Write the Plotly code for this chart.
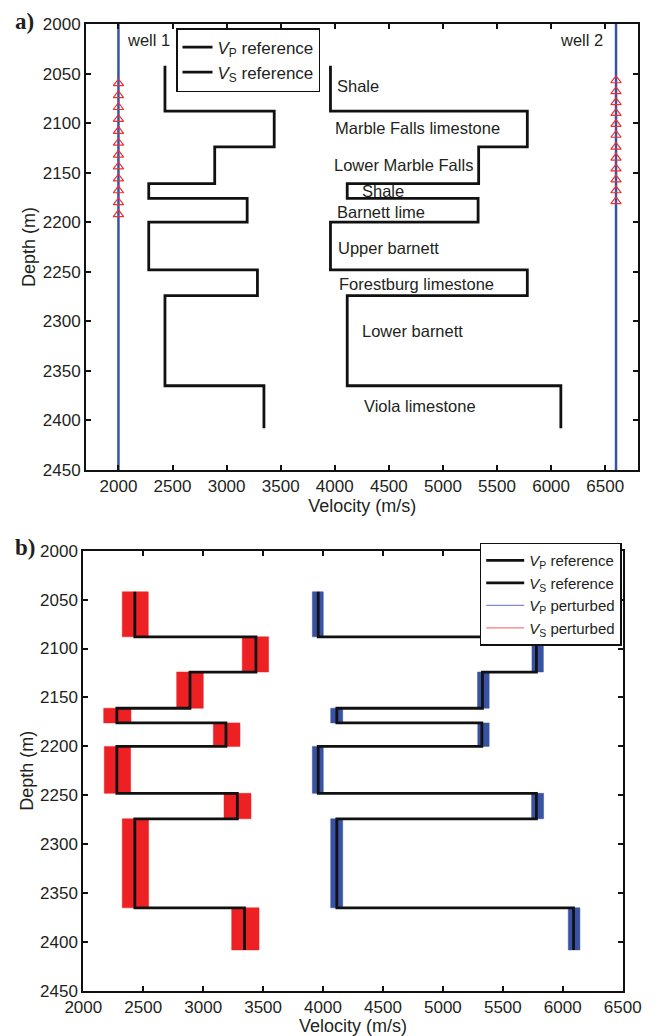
import plotly.graph_objects as go

# ---------------- data ----------------
layer_top = [2042, 2088, 2124, 2161, 2176, 2200, 2248, 2274, 2365]
layer_bottom = [2088, 2124, 2161, 2176, 2200, 2248, 2274, 2365, 2408]
vp_ref = [3960, 5780, 5330, 4115, 5325, 3960, 5780, 4115, 6090]
vs_ref = [2430, 3440, 2890, 2280, 3190, 2280, 3285, 2430, 3345]

vp_pert_low = [3911, 5743, 5289, 4064, 5291, 3911, 5740, 4064, 6046]
vp_pert_high = [4002, 5838, 5386, 4164, 5386, 4002, 5840, 4164, 6143]
vs_pert_low = [2325, 3326, 2779, 2170, 3085, 2175, 3174, 2325, 3238]
vs_pert_high = [2542, 3546, 3001, 2398, 3307, 2395, 3399, 2545, 3466]

layer_names = ["Shale", "Marble Falls limestone", "Lower Marble Falls", "Shale",
               "Barnett lime", "Upper barnett", "Forestburg limestone",
               "Lower barnett", "Viola limestone"]
label_x = [4002, 3986, 3974, 4232, 4002, 4011, 4020, 4235, 4247]
label_depth = [2063, 2105, 2142, 2168, 2190, 2226, 2262, 2310, 2385]

well_x = [2000, 6600]
well_names = ["well 1", "well 2"]
well1_receivers = [2060, 2072, 2084, 2096, 2108, 2120, 2132, 2144, 2156, 2168, 2180, 2192]
well2_receivers = [2057, 2068, 2079, 2090, 2101, 2112, 2124, 2135, 2146, 2157, 2168, 2179]

depth_ticks = [2000, 2050, 2100, 2150, 2200, 2250, 2300, 2350, 2400, 2450]
vel_ticks = [2000, 2500, 3000, 3500, 4000, 4500, 5000, 5500, 6000, 6500]

# ---------------- helpers ----------------
def step_curve(vals):
    xs, ys = [], []
    for v, t, b in zip(vals, layer_top, layer_bottom):
        xs += [v, v]
        ys += [t, b]
    return xs, ys

def band_polys(lo, hi):
    xs, ys = [], []
    for a, c, t, b in zip(lo, hi, layer_top, layer_bottom):
        xs += [a, c, c, a, a, None]
        ys += [t, t, b, b, t, None]
    return xs, ys

TXT = "#231F20"
FONT = "Liberation Sans, Arial, Helvetica, sans-serif"
BLUE = "#3953A4"
RED = "#ED2024"
LW = 2.8

fig = go.Figure()

# ---------------- panel a ----------------
for wx in well_x:
    fig.add_trace(go.Scatter(x=[wx, wx], y=[depth_ticks[0], depth_ticks[-1]], mode="lines",
                             line=dict(color=BLUE, width=2.5), showlegend=False,
                             xaxis="x", yaxis="y", hoverinfo="skip"))
fig.add_trace(go.Scatter(x=[well_x[0]] * len(well1_receivers), y=well1_receivers, mode="markers",
                         marker=dict(symbol="triangle-up-open", size=9, color="#EE3030",
                                     line=dict(width=1.2, color="#EE3030")),
                         showlegend=False, xaxis="x", yaxis="y"))
fig.add_trace(go.Scatter(x=[well_x[1]] * len(well2_receivers), y=well2_receivers, mode="markers",
                         marker=dict(symbol="triangle-up-open", size=9, color="#EE3030",
                                     line=dict(width=1.2, color="#EE3030")),
                         showlegend=False, xaxis="x", yaxis="y"))

xs, ys = step_curve(vp_ref)
fig.add_trace(go.Scatter(x=xs, y=ys, mode="lines", line=dict(color="#111111", width=LW),
                         name="<i>V</i><sub>P</sub> reference", xaxis="x", yaxis="y", legend="legend"))
xs, ys = step_curve(vs_ref)
fig.add_trace(go.Scatter(x=xs, y=ys, mode="lines", line=dict(color="#111111", width=LW),
                         name="<i>V</i><sub>S</sub> reference", xaxis="x", yaxis="y", legend="legend"))

# ---------------- panel b ----------------
xs, ys = band_polys(vs_pert_low, vs_pert_high)
fig.add_trace(go.Scatter(x=xs, y=ys, mode="lines", fill="toself", fillcolor=RED,
                         line=dict(color=RED, width=0.5), showlegend=False,
                         xaxis="x2", yaxis="y2", hoverinfo="skip"))
xs, ys = band_polys(vp_pert_low, vp_pert_high)
fig.add_trace(go.Scatter(x=xs, y=ys, mode="lines", fill="toself", fillcolor=BLUE,
                         line=dict(color=BLUE, width=0.5), showlegend=False,
                         xaxis="x2", yaxis="y2", hoverinfo="skip"))

xs, ys = step_curve(vp_ref)
fig.add_trace(go.Scatter(x=xs, y=ys, mode="lines", line=dict(color="#111111", width=LW),
                         name="<i>V</i><sub>P</sub> reference", xaxis="x2", yaxis="y2", legend="legend2"))
xs, ys = step_curve(vs_ref)
fig.add_trace(go.Scatter(x=xs, y=ys, mode="lines", line=dict(color="#111111", width=LW),
                         name="<i>V</i><sub>S</sub> reference", xaxis="x2", yaxis="y2", legend="legend2"))
fig.add_trace(go.Scatter(x=[None], y=[None], mode="lines", line=dict(color="#7E8DCB", width=1.2),
                         name="<i>V</i><sub>P</sub> perturbed", xaxis="x2", yaxis="y2", legend="legend2"))
fig.add_trace(go.Scatter(x=[None], y=[None], mode="lines", line=dict(color="#F47C7C", width=1.2),
                         name="<i>V</i><sub>S</sub> perturbed", xaxis="x2", yaxis="y2", legend="legend2"))

# ---------------- annotations ----------------
LBL = 16.5
ann = []
for name, lx, ld in zip(layer_names, label_x, label_depth):
    ann.append(dict(x=lx, y=ld, xref="x", yref="y", text=name, showarrow=False,
                    xanchor="left", yanchor="middle", font=dict(size=LBL, color=TXT, family=FONT)))
ann.append(dict(x=well_x[0] + 60, y=2016, xref="x", yref="y", text=well_names[0], showarrow=False,
                xanchor="left", yanchor="middle", font=dict(size=LBL, color=TXT, family=FONT)))
ann.append(dict(x=well_x[1] - 100, y=2016, xref="x", yref="y", text=well_names[1], showarrow=False,
                xanchor="right", yanchor="middle", font=dict(size=LBL, color=TXT, family=FONT)))
ann.append(dict(x=13 / 656, y=1 - 21 / 1036, xref="paper", yref="paper", text="<b>a)</b>",
                showarrow=False, xanchor="left", yanchor="middle",
                font=dict(size=23, color=TXT, family="Liberation Serif, Times New Roman, serif")))
ann.append(dict(x=13 / 656, y=1 - 547 / 1036, xref="paper", yref="paper", text="<b>b)</b>",
                showarrow=False, xanchor="left", yanchor="middle",
                font=dict(size=23, color=TXT, family="Liberation Serif, Times New Roman, serif")))

axis_common = dict(showline=True, linecolor="#111111", linewidth=2, mirror="ticks",
                   ticks="inside", ticklen=5, tickwidth=1.5, tickcolor="#111111",
                   showgrid=False, zeroline=False, automargin=False,
                   tickfont=dict(size=17, color=TXT, family=FONT))
title_font = dict(size=18, color=TXT, family=FONT)

W, H = 656, 1036
fig.update_layout(
    width=W, height=H, margin=dict(l=0, r=0, t=0, b=0, autoexpand=False),
    paper_bgcolor="white", plot_bgcolor="white",
    font=dict(family=FONT, color=TXT),
    annotations=ann,
    xaxis=dict(axis_common, domain=[86 / W, 638.3 / W], range=[1700, 6806], tickvals=vel_ticks,
               anchor="y", title=dict(text="Velocity (m/s)", font=title_font, standoff=0)),
    yaxis=dict(axis_common, domain=[1 - 470 / H, 1 - 24 / H], range=[2450, 2000], tickvals=depth_ticks,
               anchor="x", title=dict(text="Depth (m)", font=title_font, standoff=2)),
    xaxis2=dict(axis_common, domain=[83.3 / W, 622.7 / W], range=[2000, 6500], tickvals=vel_ticks,
                anchor="y2", title=dict(text="Velocity (m/s)", font=title_font, standoff=0)),
    yaxis2=dict(axis_common, domain=[1 - 991 / H, 1 - 550.7 / H], range=[2450, 2000], tickvals=depth_ticks,
                anchor="x2", title=dict(text="Depth (m)", font=title_font, standoff=2)),
    legend=dict(x=176 / W, y=1 - 28 / H, xanchor="left", yanchor="top",
                bgcolor="white", bordercolor="#111111", borderwidth=1.5,
                font=dict(size=17, color=TXT, family=FONT), itemwidth=30,
                tracegroupgap=0),
    legend2=dict(x=621.7 / W, y=1 - 542.7 / H, xanchor="right", yanchor="top",
                 bgcolor="white", bordercolor="#111111", borderwidth=1.5,
                 font=dict(size=15, color=TXT, family=FONT), itemwidth=38,
                 tracegroupgap=0),
)

fig.write_html("out.html")
